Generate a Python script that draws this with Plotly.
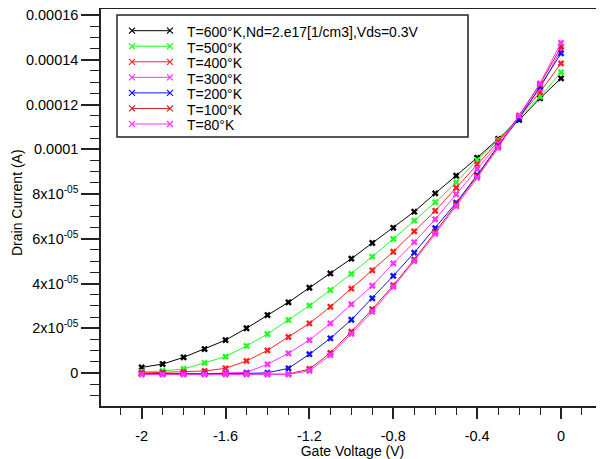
import plotly.graph_objects as go

# Gate voltage (V)
gate_voltage = [-2.0, -1.9, -1.8, -1.7, -1.6, -1.5, -1.4, -1.3, -1.2, -1.1, -1.0,
                -0.9, -0.8, -0.7, -0.6, -0.5, -0.4, -0.3, -0.2, -0.1, 0.0]

# Drain current (A) per temperature
i_600K = [0.25e-5, 0.40e-5, 0.70e-5, 1.07e-5, 1.47e-5, 2.00e-5, 2.59e-5, 3.16e-5, 3.81e-5, 4.45e-5, 5.11e-5,
          5.81e-5, 6.49e-5, 7.21e-5, 8.03e-5, 8.82e-5, 9.62e-5, 10.46e-5, 11.31e-5, 12.28e-5, 13.17e-5]
i_500K = [0.05e-5, 0.09e-5, 0.18e-5, 0.45e-5, 0.73e-5, 1.21e-5, 1.74e-5, 2.37e-5, 3.01e-5, 3.70e-5, 4.43e-5,
          5.20e-5, 5.99e-5, 6.81e-5, 7.63e-5, 8.52e-5, 9.52e-5, 10.41e-5, 11.43e-5, 12.35e-5, 13.44e-5]
i_400K = [0.00e-5, 0.03e-5, 0.05e-5, 0.09e-5, 0.21e-5, 0.54e-5, 1.01e-5, 1.61e-5, 2.22e-5, 2.96e-5, 3.77e-5,
          4.59e-5, 5.42e-5, 6.33e-5, 7.25e-5, 8.28e-5, 9.33e-5, 10.34e-5, 11.46e-5, 12.55e-5, 13.84e-5]
i_300K = [-0.05e-5, -0.05e-5, -0.04e-5, -0.03e-5, 0.00e-5, 0.03e-5, 0.39e-5, 0.88e-5, 1.47e-5, 2.22e-5, 3.07e-5,
          3.90e-5, 4.90e-5, 5.85e-5, 6.87e-5, 7.99e-5, 9.12e-5, 10.23e-5, 11.49e-5, 12.72e-5, 14.45e-5]
i_200K = [-0.03e-5, -0.03e-5, -0.03e-5, -0.03e-5, -0.03e-5, -0.02e-5, 0.01e-5, 0.21e-5, 0.84e-5, 1.55e-5, 2.38e-5,
          3.34e-5, 4.34e-5, 5.38e-5, 6.47e-5, 7.61e-5, 8.85e-5, 10.15e-5, 11.38e-5, 12.80e-5, 14.29e-5]
i_100K = [-0.05e-5, -0.05e-5, -0.05e-5, -0.05e-5, -0.05e-5, -0.05e-5, -0.05e-5, -0.05e-5, 0.18e-5, 0.90e-5, 1.85e-5,
          2.85e-5, 3.92e-5, 5.07e-5, 6.30e-5, 7.53e-5, 8.80e-5, 10.12e-5, 11.50e-5, 12.90e-5, 14.58e-5]
i_80K = [-0.06e-5, -0.06e-5, -0.06e-5, -0.06e-5, -0.06e-5, -0.06e-5, -0.06e-5, -0.06e-5, 0.10e-5, 0.80e-5, 1.75e-5,
         2.74e-5, 3.85e-5, 5.00e-5, 6.22e-5, 7.45e-5, 8.72e-5, 10.06e-5, 11.50e-5, 12.95e-5, 14.76e-5]

series_names = ["T=600°K,Nd=2.e17[1/cm3],Vds=0.3V", "T=500°K", "T=400°K", "T=300°K",
                "T=200°K", "T=100°K", "T=80°K"]
series_values = [i_600K, i_500K, i_400K, i_300K, i_200K, i_100K, i_80K]
series_colors = ["#000000", "#22FF22", "#FF2020", "#FF33FF", "#1010FF", "#D02020", "#FF33FF"]

y_tickvals = [0, 2e-5, 4e-5, 6e-5, 8e-5, 1e-4, 1.2e-4, 1.4e-4, 1.6e-4]
y_ticktext = ["0", "2x10<sup>-05</sup>", "4x10<sup>-05</sup>", "6x10<sup>-05</sup>",
              "8x10<sup>-05</sup>", "0.0001", "0.00012", "0.00014", "0.00016"]
x_tickvals = [-2, -1.6, -1.2, -0.8, -0.4, 0]
x_ticktext = ["-2", "-1.6", "-1.2", "-0.8", "-0.4", "0"]

x_title = "Gate Voltage (V)"
y_title = "Drain Current (A)"

FONT = "Liberation Sans, Arial, sans-serif"
AX = "#222222"

# ---- layout geometry (figure pixels; page body adds an 8px offset) ----
FIG_W, FIG_H = 596, 451
M_L, M_R, M_T, M_B = 93, 0, 1, 53
PLOT_W = FIG_W - M_L - M_R
PLOT_H = FIG_H - M_T - M_B


def px_x(px):
    """figure pixel x -> paper fraction"""
    return (px - M_L) / PLOT_W


def px_y(py):
    """figure pixel y -> paper fraction"""
    return (FIG_H - M_B - py) / PLOT_H


# legend box geometry (figure pixels)
LEG_X0, LEG_X1, LEG_Y0, LEG_Y1 = 109, 460, 7, 129
ROW0, ROW_STEP = 22.7, 15.55
SAMPLE_X0, SAMPLE_X1, TEXT_X = 124, 162, 177

fig = go.Figure()
for name, vals, col in zip(series_names, series_values, series_colors):
    fig.add_trace(go.Scatter(
        x=gate_voltage, y=vals, name=name, mode="lines+markers",
        line=dict(color=col, width=1),
        marker=dict(symbol="x", size=6, color=col),
        showlegend=False,
    ))

# custom legend (samples drawn on an overlay axis in paper units)
shapes = [dict(type="rect", xref="paper", yref="paper",
               x0=px_x(LEG_X0), x1=px_x(LEG_X1), y0=px_y(LEG_Y1), y1=px_y(LEG_Y0),
               line=dict(color="#222222", width=1.5), fillcolor="white", layer="below")]
annotations = []
for k, (name, col) in enumerate(zip(series_names, series_colors)):
    ry = px_y(ROW0 + k * ROW_STEP)
    fig.add_trace(go.Scatter(
        x=[px_x(SAMPLE_X0), px_x(SAMPLE_X1)], y=[ry, ry],
        xaxis="x2", yaxis="y2", mode="lines+markers", showlegend=False, hoverinfo="skip",
        line=dict(color=col, width=1),
        marker=dict(symbol="x-thin", size=6, line=dict(width=1.2, color=col)),
    ))
    annotations.append(dict(
        x=px_x(TEXT_X), y=px_y(ROW0 + k * ROW_STEP + 1.5), xref="paper", yref="paper",
        text=name, showarrow=False, xanchor="left", yanchor="middle",
        font=dict(family=FONT, size=14, color="#000000"),
    ))

# y-axis title as a rotated text, kept inside the figure's left edge
annotations.append(dict(
    x=px_x(0), y=px_y(195), xref="paper", yref="paper", text=y_title,
    showarrow=False, textangle=-90, xanchor="left", yanchor="middle",
    borderpad=0, font=dict(family=FONT, size=14, color="#000000"),
))

fig.update_layout(
    width=FIG_W, height=FIG_H,
    margin=dict(l=M_L, r=M_R, t=M_T, b=M_B),
    paper_bgcolor="white", plot_bgcolor="white",
    font=dict(family=FONT, size=14, color="#000000"),
    showlegend=False,
    shapes=shapes,
    annotations=annotations,
    xaxis=dict(
        range=[-2.194, 0.205],
        tickmode="array", tickvals=x_tickvals, ticktext=x_ticktext,
        ticks="outside", ticklen=11, tickwidth=2, tickcolor=AX,
        minor=dict(dtick=0.1, tick0=0, ticks="outside", ticklen=7, tickwidth=1, tickcolor=AX),
        showline=True, linecolor=AX, linewidth=1.5, mirror=True,
        showgrid=False, zeroline=False,
        title=dict(text=x_title, font=dict(size=14), standoff=1),
        tickfont=dict(size=14.5),
        ticklabelstandoff=5,
        ticklabeloverflow="allow",
    ),
    yaxis=dict(
        range=[-1.475e-5, 1.627e-4],
        tickmode="array", tickvals=y_tickvals, ticktext=y_ticktext,
        ticks="outside", ticklen=18, tickwidth=2, tickcolor=AX,
        minor=dict(dtick=5e-6, tick0=0, ticks="outside", ticklen=9, tickwidth=1, tickcolor=AX),
        showline=True, linecolor=AX, linewidth=1.5, mirror=False,
        showgrid=False, zeroline=False,
        tickfont=dict(size=14.5),
        ticklabeloverflow="allow",
    ),
    xaxis2=dict(overlaying="x", range=[0, 1], visible=False, fixedrange=True),
    yaxis2=dict(overlaying="y", range=[0, 1], visible=False, fixedrange=True),
)

fig.write_html("out.html")
